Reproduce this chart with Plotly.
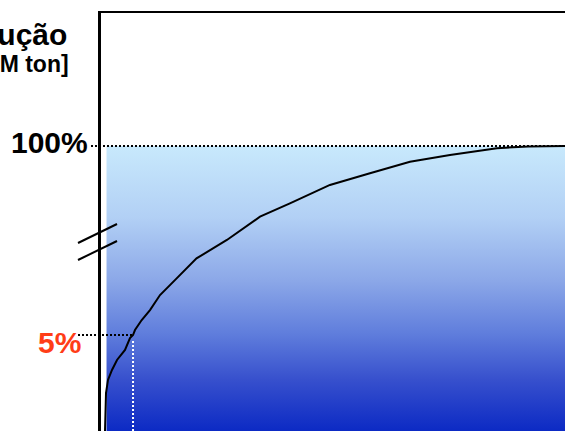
import plotly.graph_objects as go

# ---------------- data ----------------
# cumulative share of producers (%)  vs  cumulative share of production (%)
share_producers = [0.0, 0.05, 0.22, 0.65, 1.52, 2.61, 4.35, 5.43, 6.09, 6.52, 7.98,
                   9.78, 11.96, 15.2, 19.9, 26.5, 31.5, 33.7, 40.2, 48.9, 57.6,
                   64.1, 66.3, 75.0, 85.2, 92.0, 100.0]
share_production = [0.0, 1.35, 1.98, 2.66, 3.18, 3.70, 4.22, 4.84, 5.00, 5.26, 5.78,
                    6.30, 7.08, 7.86, 8.99, 9.95, 25.2, 31.6, 44.5, 62.3, 73.6,
                    81.6, 84.8, 91.3, 97.8, 99.6, 100.0]
tick_values = [5, 100]
tick_labels = ["5%", "100%"]
title_lines = ["Produção", "[M ton]"]
marker_share = 5          # highlighted level
marker_producers = 6.09   # where the curve reaches it

# ---------------- broken y scale ----------------
W, H = 565, 431
BRK = 10.0                 # value where the axis is broken
K_LOW = 19.2               # display units per % below the break
K_HIGH = (285 - BRK * K_LOW) / (100 - BRK)


def disp(v):
    return v * K_LOW if v <= BRK else BRK * K_LOW + (v - BRK) * K_HIGH


X_MIN, X_MAX = -0.87, 100.0
X_DOM0 = 101 / W
Y_TOP = 418


def x_to_paper(x):
    return X_DOM0 + (x - X_MIN) / (X_MAX - X_MIN) * (1 - X_DOM0)


y_curve = [disp(v) for v in share_production]

fig = go.Figure()

# gradient area up to 100 %
fig.add_trace(go.Scatter(
    x=[0.33, X_MAX, X_MAX, 0.33, 0.33],
    y=[0, 0, disp(100), disp(100), 0],
    mode="lines", line=dict(width=0), fill="toself",
    fillgradient=dict(
        type="vertical", start=0, stop=disp(100),
        colorscale=[[0.0, "rgb(12,42,196)"], [0.18, "rgb(55,80,205)"],
                    [0.34, "rgb(95,125,220)"], [0.53, "rgb(140,168,232)"],
                    [0.75, "rgb(178,208,245)"], [1.0, "rgb(200,233,252)"]]),
    hoverinfo="skip", showlegend=False))

# concentration curve
fig.add_trace(go.Scatter(
    x=share_producers, y=y_curve, mode="lines",
    line=dict(color="black", width=2), showlegend=False))

shapes = []
# 100 % dotted guide
shapes.append(dict(type="line", xref="paper", yref="y", x0=91 / W, x1=1,
                   y0=disp(100), y1=disp(100), layer="above",
                   line=dict(color="black", width=2, dash="2px,2px")))
# 5 % dotted guides
shapes.append(dict(type="line", xref="paper", yref="y", x0=78 / W,
                   x1=x_to_paper(marker_producers),
                   y0=disp(marker_share), y1=disp(marker_share), layer="above",
                   line=dict(color="black", width=2, dash="2px,2px")))
shapes.append(dict(type="line", xref="x", yref="y", x0=marker_producers,
                   x1=marker_producers, y0=0, y1=disp(marker_share) - 6,
                   layer="above",
                   line=dict(color="white", width=2, dash="2px,2px")))
# axis-break marks
for dy in (0, 17):
    shapes.append(dict(type="line", xref="paper", yref="paper",
                       x0=78 / W, y0=1 - (243 + dy) / H,
                       x1=117 / W, y1=1 - (224 + dy) / H, layer="above",
                       line=dict(color="black", width=2)))

annotations = [
    dict(text="<b>%s</b>" % tick_labels[1], xref="paper", yref="y",
         x=90 / W, y=disp(tick_values[1]) + 4, xanchor="right", yanchor="middle",
         showarrow=False, font=dict(family="Liberation Sans", size=30, color="black")),
    dict(text="<b>%s</b>" % tick_labels[0], xref="paper", yref="y",
         x=83 / W, y=disp(tick_values[0]) - 7, xanchor="right", yanchor="middle",
         showarrow=False, font=dict(family="Liberation Sans", size=30, color="#FF3D17")),
    dict(text="<b>%s</b>" % title_lines[0], xref="paper", yref="paper",
         x=69 / W, y=1 - 35 / H, xanchor="right", yanchor="middle",
         showarrow=False, font=dict(family="Liberation Sans", size=30, color="black")),
    dict(text="<b>%s</b>" % title_lines[1], xref="paper", yref="paper",
         x=71 / W, y=1 - 64 / H, xanchor="right", yanchor="middle",
         showarrow=False, font=dict(family="Liberation Sans", size=23, color="black")),
]

fig.update_layout(
    width=W, height=H, margin=dict(l=0, r=0, t=0, b=0),
    paper_bgcolor="white", plot_bgcolor="white",
    xaxis=dict(domain=[X_DOM0, 1], range=[X_MIN, X_MAX], side="top",
               showline=True, linecolor="black", linewidth=2,
               showgrid=False, zeroline=False, showticklabels=False, ticks=""),
    yaxis=dict(domain=[0, Y_TOP / H], range=[0, Y_TOP],
               showline=True, linecolor="black", linewidth=2.5,
               showgrid=False, zeroline=False, showticklabels=False, ticks=""),
    shapes=shapes, annotations=annotations, showlegend=False)

fig.write_html(
    "out.html",
    config={"displayModeBar": False},
    post_script="document.body.style.margin='0';"
                "document.body.style.overflow='hidden';")
